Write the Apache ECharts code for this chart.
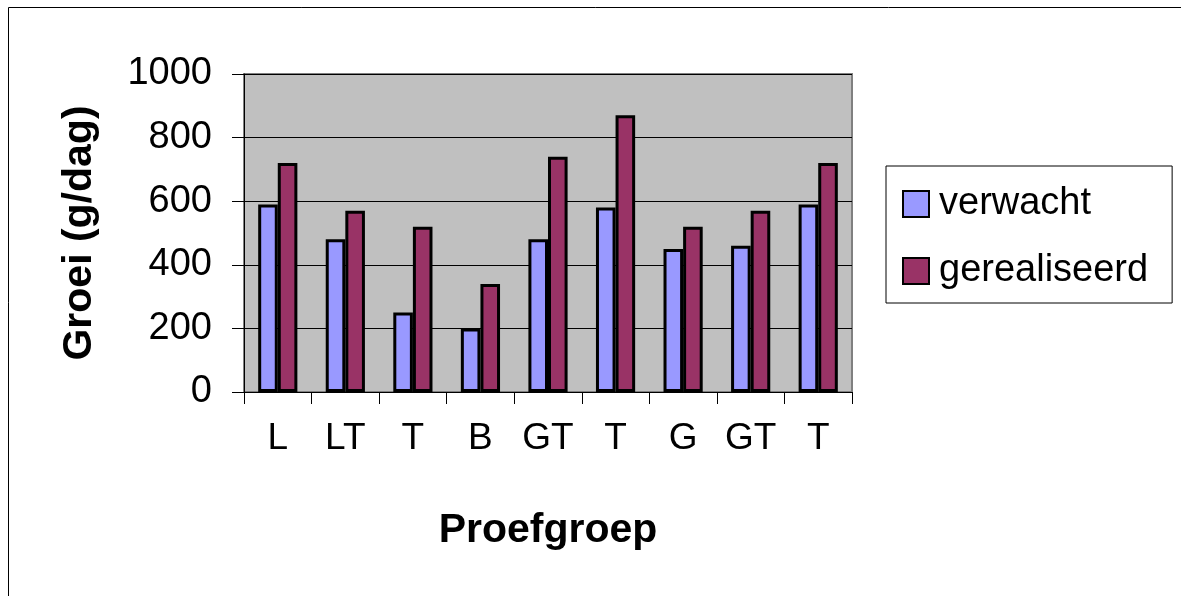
<!DOCTYPE html>
<html>
<head>
<meta charset="utf-8">
<script src="https://cdn.jsdelivr.net/npm/echarts@6/dist/echarts.min.js"></script>
<style>
html,body{margin:0;padding:0;background:#fff;}
#chart{width:1181px;height:596px;}
</style>
</head>
<body>
<div id="chart"></div>
<script>
const categories = ['L', 'LT', 'T', 'B', 'GT', 'T', 'G', 'GT', 'T'];
const verwacht = [590, 480, 250, 200, 480, 580, 450, 460, 590];
const gerealiseerd = [720, 570, 520, 340, 740, 870, 520, 570, 720];
const seriesNames = ['verwacht', 'gerealiseerd'];
const yTicks = [0, 200, 400, 600, 800, 1000];
const yTitle = 'Groei (g/dag)';
const xTitle = 'Proefgroep';

const FONT = "'Liberation Sans', Arial, sans-serif";
const chart = echarts.init(document.getElementById('chart'), null, {renderer: 'canvas'});

const option = {
  animation: false,
  backgroundColor: '#ffffff',
  textStyle: {fontFamily: FONT, color: '#000'},
  graphic: [{
    type: 'rect',
    shape: {x: 8.5, y: 7.5, width: 1300, height: 700},
    style: {fill: 'none', stroke: '#000', lineWidth: 1},
    silent: true,
    z: -10
  }],
  grid: {
    left: 244, top: 74, width: 608, height: 318,
    show: true,
    backgroundColor: '#C0C0C0',
    borderColor: '#808080',
    borderWidth: 2
  },
  legend: {
    orient: 'vertical',
    left: 886, top: 166,
    padding: [18, 24, 12, 16],
    itemWidth: 26, itemHeight: 26,
    itemGap: 27,
    backgroundColor: '#fff',
    borderColor: '#000',
    borderWidth: 1,
    icon: 'rect',
    textStyle: {fontFamily: FONT, fontSize: 38, color: '#000', lineHeight: 40, padding: [0,0,0,5]},
    data: seriesNames
  },
  xAxis: {
    type: 'category',
    data: categories,
    boundaryGap: true,
    name: xTitle,
    nameLocation: 'middle',
    nameGap: 118,
    nameTextStyle: {fontFamily: FONT, fontSize: 41, fontWeight: 'bold', color: '#000'},
    axisLine: {show: true, lineStyle: {color: '#000', width: 1}},
    axisTick: {show: true, length: 12, alignWithLabel: false, interval: 0, lineStyle: {color: '#000'}},
    axisLabel: {interval: 0, fontFamily: FONT, fontSize: 37, color: '#000', margin: 28},
    splitLine: {show: false}
  },
  yAxis: {
    type: 'value',
    min: yTicks[0], max: yTicks[yTicks.length - 1], interval: 200,
    name: yTitle,
    nameLocation: 'middle',
    nameGap: 144,
    nameTextStyle: {fontFamily: FONT, fontSize: 41, fontWeight: 'bold', color: '#000', padding: [0, 0, 0, 0]},
    axisLine: {show: true, lineStyle: {color: '#000', width: 1}},
    axisTick: {show: true, length: 12, lineStyle: {color: '#000'}},
    axisLabel: {fontFamily: FONT, fontSize: 38, color: '#000', margin: 32, formatter: function (v) { return String(v); }},
    splitLine: {show: true, lineStyle: {color: '#000', width: 1}}
  },
  series: [
    {
      name: seriesNames[0], type: 'bar', data: verwacht,
      barGap: '0%', barCategoryGap: '42%',
      itemStyle: {color: '#9999FF', borderColor: '#000', borderWidth: 3}
    },
    {
      name: seriesNames[1], type: 'bar', data: gerealiseerd,
      barGap: '0%', barCategoryGap: '42%',
      itemStyle: {color: '#993366', borderColor: '#000', borderWidth: 3}
    }
  ]
};
chart.setOption(option);
</script>
</body>
</html>
